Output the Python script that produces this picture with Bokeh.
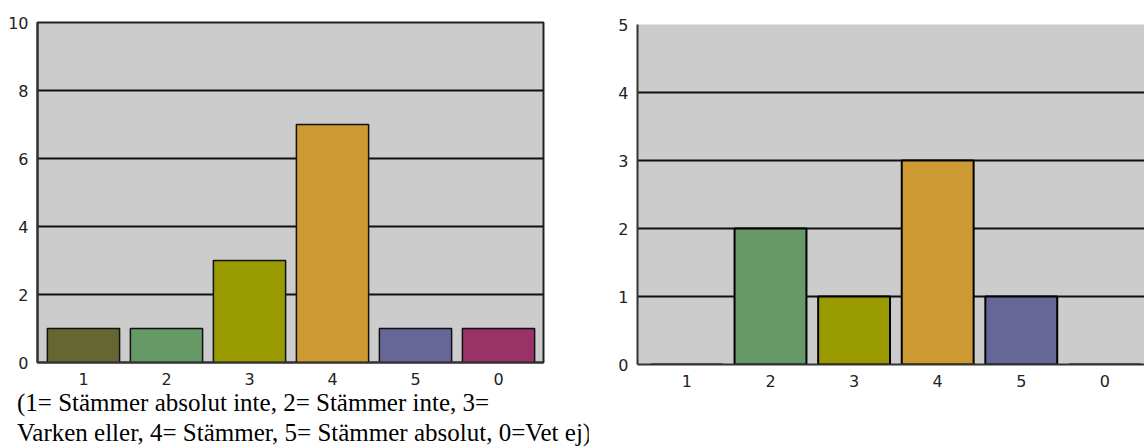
from bokeh.plotting import figure
from bokeh.models import Range1d, FixedTicker, Div
from bokeh.layouts import row, column
from bokeh.embed import file_html
from bokeh.resources import INLINE

categories = ["1", "2", "3", "4", "5", "0"]
colors = ["#666633", "#669966", "#999900", "#cc9933", "#666699", "#993366"]
left_values = [1, 1, 3, 7, 1, 1]
right_values = [0, 2, 1, 3, 1, 0]
left_yticks = [0, 2, 4, 6, 8, 10]
right_yticks = [0, 1, 2, 3, 4, 5]
caption_lines = [
    "(1= Stämmer absolut inte, 2= Stämmer inte, 3=",
    "Varken eller, 4= Stämmer, 5= Stämmer absolut, 0=Vet ej)",
]

xpos = list(range(len(categories)))
TICK_FONT = "DejaVu Sans"
H = 446
LEFT_H = 392
LEFT_W = 588


def style(p, yticks):
    p.background_fill_color = "#cccccc"
    p.border_fill_color = "white"
    p.xgrid.grid_line_color = None
    p.ygrid.ticker = FixedTicker(ticks=yticks)
    p.ygrid.grid_line_color = "#111111"
    p.ygrid.grid_line_width = 2
    p.yaxis.ticker = FixedTicker(ticks=yticks)
    p.xaxis.ticker = FixedTicker(ticks=xpos)
    p.xaxis.major_label_overrides = {i: c for i, c in enumerate(categories)}
    for ax in (p.xaxis, p.yaxis):
        ax.major_tick_line_color = None
        ax.minor_tick_line_color = None
        ax.axis_line_color = "#333333"
        ax.axis_line_width = 2
        ax.major_label_text_font = TICK_FONT
        ax.major_label_text_font_size = "16px"
        ax.major_label_text_color = "#222222"
    p.yaxis.major_label_standoff = 3
    p.xaxis.major_label_standoff = 4


left = figure(width=LEFT_W, height=LEFT_H, output_backend="svg", toolbar_location=None,
              x_range=Range1d(-0.554, 5.542), y_range=Range1d(0, 10),
              min_border_left=37, min_border_top=22, min_border_right=45,
              min_border_bottom=LEFT_H - 362)
style(left, left_yticks)
left.outline_line_color = "#222222"
left.outline_line_width = 2
left.vbar(x=xpos, top=left_values, width=0.87, fill_color=colors,
          line_color="#111111", line_width=1.5)

caption = Div(text="<br>".join(caption_lines), width=LEFT_W, height=H - LEFT_H,
              margin=(0, 0, 0, 0),
              styles={"font-family": "'Liberation Serif', 'Times New Roman', serif",
                      "font-size": "25px", "line-height": "30px",
                      "color": "black", "padding-left": "17px",
                      "position": "relative", "top": "-4px",
                      "white-space": "nowrap", "overflow": "visible"})

right = figure(width=1144 - LEFT_W, height=H, output_backend="svg", toolbar_location=None,
               x_range=Range1d(-0.591, 5.474), y_range=Range1d(0, 5),
               min_border_left=49, min_border_top=24, min_border_right=0,
               min_border_bottom=H - 364)
style(right, right_yticks)
right.outline_line_color = None
right.vbar(x=xpos, top=right_values, width=0.86, fill_color=colors,
           line_color="#000000", line_width=2)

layout = row(column(left, caption, spacing=0), right, spacing=0)
open("out.html", "w").write(file_html(layout, INLINE))
